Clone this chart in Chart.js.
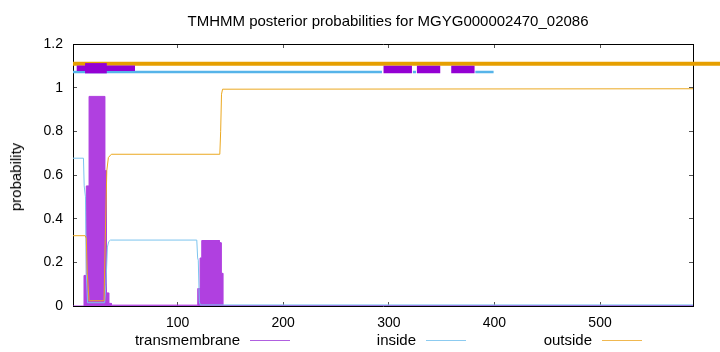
<!DOCTYPE html>
<html>
<head>
<meta charset="utf-8">
<title>TMHMM posterior probabilities</title>
<script src="https://cdn.jsdelivr.net/npm/chart.js@4.4.1/dist/chart.umd.min.js"></script>
<style>
  html, body { margin: 0; padding: 0; background: #fff; }
  #wrap { position: relative; width: 720px; height: 352px; font-family: "Liberation Sans", Arial, sans-serif; font-size: 15px; color: #000; }
  #wrap canvas { position: absolute; left: 0; top: 0; }
  .txt { position: absolute; white-space: nowrap; line-height: 16px; }
  #title { left: 388px; top: 13px; transform: translateX(-50%); }
  #ylabel { left: 16px; top: 177px; transform: translate(-50%, -50%) rotate(-90deg); }
  .key { position: absolute; top: 340px; width: 40px; height: 0; border-top: 1px solid; }
</style>
</head>
<body>
<div id="wrap">
  <canvas id="tmhmm" width="720" height="352"></canvas>
  <div class="txt" id="title">TMHMM posterior probabilities for MGYG000002470_02086</div>
  <div class="txt" id="ylabel">probability</div>
  <div class="txt" style="right:480px; top:332px;">transmembrane</div>
  <div class="key" style="left:250px; border-color:#b060e0;"></div>
  <div class="txt" style="right:304px; top:332px;">inside</div>
  <div class="key" style="left:426px; border-color:#8ccbf0;"></div>
  <div class="txt" style="right:128px; top:332px;">outside</div>
  <div class="key" style="left:602px; border-color:#f0b850;"></div>
</div>
<script>
// sequence positions and tick labels
const seqStart = 1;
const seqEnd = 588;
const xTicks = [100, 200, 300, 400, 500];
const yTicks = [0, 0.2, 0.4, 0.6, 0.8, 1, 1.2];

// posterior probabilities (position, value)
const tmPos  = [1, 11.4, 11.4, 13.6, 13.6, 16.2, 16.2, 31.0, 31.0, 32.6, 32.6, 34.8, 34.8, 37.3, 37.3, 119.1, 119.1, 121.3, 121.3, 122.9, 122.9, 139.6, 139.6, 141.2, 141.2, 142.8, 142.8, 588];
const tmProb = [0, 0, 0.14, 0.14, 0.55, 0.55, 0.96, 0.96, 0.62, 0.62, 0.06, 0.06, 0.012, 0.012, 0.004, 0.004, 0.08, 0.08, 0.22, 0.22, 0.30, 0.30, 0.29, 0.29, 0.15, 0.15, 0.002, 0.002];

const inPos  = [1, 10.9, 11.6, 12.8, 13.6, 14.8, 31.0, 32.2, 33.6, 34.8, 36.5, 118.2, 119.0, 119.6, 120.6, 121.5, 588];
const inProb = [0.677, 0.677, 0.55, 0.5, 0.15, 0.015, 0.015, 0.1, 0.27, 0.295, 0.302, 0.302, 0.22, 0.21, 0.02, 0.005, 0.005];

const outPos  = [1, 12.5, 13.6, 14.5, 16.2, 30.4, 31.5, 33.0, 34.5, 37.3, 140.0, 140.8, 141.6, 142.6, 588];
const outProb = [0.322, 0.322, 0.31, 0.15, 0.024, 0.024, 0.3, 0.62, 0.68, 0.695, 0.695, 0.8, 0.97, 0.993, 0.995];

// predicted topology track above the curves, [from, to]
const outsideTrack = [[1, 614]];
const insideTrack = [[1, 293.5], [322.8, 325.7], [381.9, 399.2]];
const tmTrackLong = [[4.5, 59.7]];
const tmTrackCore = [[12.4, 33]];
const tmTrackRight = [[295, 321.9], [326.6, 348.7], [359.1, 381.2]];
const outsideLevel = 1.11;
const insideLevel = 1.072;
const tmLevelLeft = 1.089;
const tmLevelRight = 1.083;

function toPoints(xs, ys) {
    return xs.map((x, i) => ({ x: x, y: ys[i] }));
}

function toSegments(ranges, level) {
    const pts = [];
    ranges.forEach(r => {
        pts.push({ x: r[0], y: level }, { x: r[1], y: level }, { x: r[1], y: null });
    });
    return pts;
}

function trackSet(data, color, width, order, clip) {
    return {
        data: data,
        borderColor: color,
        borderWidth: width,
        borderCapStyle: 'butt',
        pointRadius: 0,
        fill: false,
        spanGaps: false,
        order: order,
        clip: clip
    };
}

const fixedTicks = vals => scale => { scale.ticks = vals.map(v => ({ value: v })); };

const axisFont = { family: '"Liberation Sans", Arial, sans-serif', size: 14 };

const ctx = document.getElementById('tmhmm').getContext('2d');
new Chart(ctx, {
    type: 'line',
    data: {
        datasets: [
            {
                label: 'transmembrane',
                data: toPoints(tmPos, tmProb),
                borderColor: '#b040e0',
                backgroundColor: '#b040e0',
                borderWidth: 1,
                pointRadius: 0,
                fill: 'origin',
                order: 6
            },
            {
                label: 'inside',
                data: toPoints(inPos, inProb),
                borderColor: '#7cc4ee',
                borderWidth: 1,
                pointRadius: 0,
                fill: false,
                order: 5
            },
            {
                label: 'outside',
                data: toPoints(outPos, outProb),
                borderColor: '#eba820',
                borderWidth: 1,
                pointRadius: 0,
                fill: false,
                order: 4
            },
            trackSet(toSegments(insideTrack, insideLevel), '#56b4e9', 2.6, 3, undefined),
            trackSet(toSegments(outsideTrack, outsideLevel), '#e69f00', 4, 3, false),
            trackSet(toSegments(tmTrackLong, tmLevelLeft), '#9400d3', 5.3, 2, undefined),
            trackSet(toSegments(tmTrackCore, tmLevelLeft), '#9400d3', 10.3, 1, undefined),
            trackSet(toSegments(tmTrackRight, tmLevelRight), '#9400d3', 7.6, 1, undefined)
        ]
    },
    options: {
        responsive: false,
        animation: false,
        events: [],
        layout: { padding: { left: 0, right: 27, top: 44, bottom: 0 } },
        plugins: {
            legend: { display: false },
            tooltip: { enabled: false },
            title: { display: false }
        },
        scales: {
            x: {
                type: 'linear',
                position: 'bottom',
                min: seqStart,
                max: seqEnd,
                afterBuildTicks: fixedTicks(xTicks),
                afterFit: s => { s.height = 46; },
                grid: { drawOnChartArea: false, drawTicks: true, tickLength: -4, color: '#555' },
                border: { display: true, color: '#000', width: 1 },
                ticks: { color: '#000', font: axisFont, padding: 13, maxRotation: 0 }
            },
            x2: {
                type: 'linear',
                position: 'top',
                min: seqStart,
                max: seqEnd,
                afterBuildTicks: fixedTicks(xTicks),
                afterFit: s => { s.height = 0; },
                grid: { drawOnChartArea: false, drawTicks: true, tickLength: -4, color: '#555' },
                border: { display: true, color: '#000', width: 1 },
                ticks: { display: false }
            },
            y: {
                type: 'linear',
                position: 'left',
                min: 0,
                max: 1.2,
                afterBuildTicks: fixedTicks(yTicks),
                afterFit: s => { s.width = 73; },
                grid: { drawOnChartArea: false, drawTicks: true, tickLength: -4, color: '#555' },
                border: { display: true, color: '#000', width: 1 },
                ticks: { color: '#000', font: axisFont, padding: 14, callback: v => String(v) }
            },
            y2: {
                type: 'linear',
                position: 'right',
                min: 0,
                max: 1.2,
                afterBuildTicks: fixedTicks(yTicks),
                afterFit: s => { s.width = 0; },
                grid: { drawOnChartArea: false, drawTicks: true, tickLength: -4, color: '#555' },
                border: { display: true, color: '#000', width: 1 },
                ticks: { display: false }
            }
        }
    }
});
</script>
</body>
</html>
